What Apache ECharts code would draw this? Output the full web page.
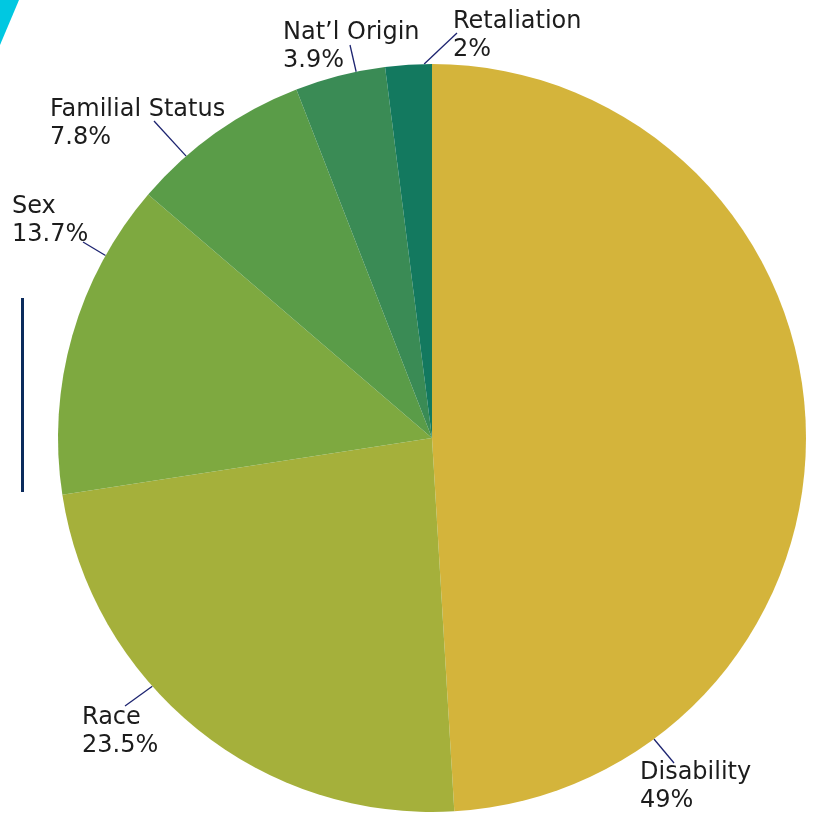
<!DOCTYPE html>
<html>
<head>
<meta charset="utf-8">
<script src="https://cdn.jsdelivr.net/npm/echarts@6/dist/echarts.min.js"></script>
<style>
  html, body { margin: 0; padding: 0; background: #fff; }
  #chart { width: 817px; height: 814px; }
</style>
</head>
<body>
<div id="chart"></div>
<script>
// Complaint bases, clockwise from 12 o'clock
const categories = ['Disability', 'Race', 'Sex', 'Familial Status', 'Nat’l Origin', 'Retaliation'];
const shares = [49, 23.5, 13.7, 7.8, 3.9, 2];
const sliceColors = ['#d4b43b', '#a5b03b', '#7ea940', '#5a9c48', '#3a8b55', '#13795f'];

// Pie geometry (px)
const CX = 432, CY = 438, R = 374;

// Callout placement: text box top-left, angle on the rim where the leader starts
// (degrees clockwise from 12 o'clock), and the leader's end next to the text.
const callouts = {
  'Disability':      { x: 640, y: 759, angle: 143.6, tail: [674, 763] },
  'Race':            { x: 82,  y: 704, angle: 228.4, tail: [125, 706] },
  'Sex':             { x: 12,  y: 193, angle: 299.2, tail: [83, 242] },
  'Familial Status': { x: 50,  y: 96,  angle: 318.9, tail: [154, 121] },
  'Nat’l Origin':    { x: 283, y: 19,  angle: 348.3, tail: [350, 45] },
  'Retaliation':     { x: 453, y: 8,   angle: 358.8, tail: [457, 33] }
};

function rimPoint(deg) {
  const a = deg * Math.PI / 180;
  return [CX + R * Math.sin(a), CY - R * Math.cos(a)];
}

const chart = echarts.init(document.getElementById('chart'), null, { renderer: 'canvas' });

chart.setOption({
  animation: false,
  backgroundColor: '#ffffff',
  graphic: [
    {
      type: 'polygon',
      shape: { points: [[0, 0], [19, 0], [0, 45]] },
      style: { fill: '#00c8e1' },
      silent: true
    },
    {
      type: 'rect',
      shape: { x: 21, y: 298, width: 3, height: 194 },
      style: { fill: '#0b2b5c' },
      silent: true
    }
  ],
  series: [{
    type: 'pie',
    center: [CX, CY],
    radius: [0, R],
    startAngle: 90,
    clockwise: true,
    avoidLabelOverlap: false,
    data: categories.map((name, i) => ({
      name: name,
      value: shares[i],
      itemStyle: { color: sliceColors[i] }
    })),
    label: {
      show: true,
      position: 'outside',
      formatter: '{b}\n{c}%',
      fontFamily: 'DejaVu Sans',
      fontSize: 24,
      lineHeight: 28,
      color: '#1c1c1c',
      align: 'left'
    },
    labelLine: {
      show: true,
      lineStyle: { color: '#1d2470', width: 1.3 }
    },
    labelLayout: function (params) {
      const name = categories[params.dataIndex];
      const c = callouts[name];
      return {
        x: c.x,
        y: c.y,
        align: 'left',
        verticalAlign: 'top',
        labelLinePoints: [rimPoint(c.angle), c.tail]
      };
    },
    emphasis: { disabled: true }
  }]
});
</script>
</body>
</html>
